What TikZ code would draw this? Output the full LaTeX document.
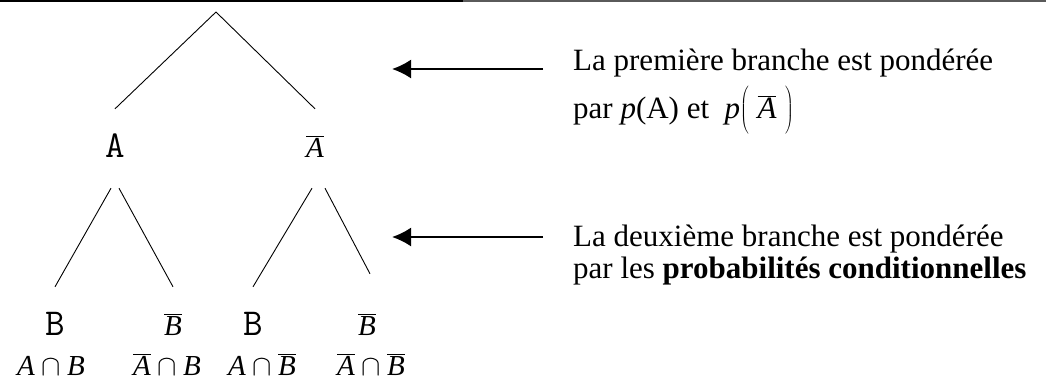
\RequirePackage{fix-cm}
\documentclass[tikz,border=0pt]{standalone}
\usepackage{fontspec}
\setmainfont{Liberation Serif}
\usepackage{tikz}
\usetikzlibrary{arrows.meta}
\definecolor{rulegrey}{RGB}{90,90,90}
\newcommand\notefont{\fontsize{31}{32}\selectfont}
\newcommand\labfont{\fontsize{38}{40}\selectfont\ttfamily}
\newcommand\evtfont{\fontsize{29}{30}\selectfont}
\newcommand\ev[1]{\textit{#1}}
\tikzset{
    lab/.style={font=\labfont, anchor=base, inner xsep=0pt, inner ysep=27pt, text height=21pt, text depth=4pt},
    labm/.style={lab, font=\evtfont},
    evt/.style={font=\evtfont, anchor=base, inner sep=0pt},
    note/.style={font=\notefont, anchor=base west, inner sep=0pt},
    branch/.style={draw=black, line width=0.9pt},
    pointer/.style={line width=2pt, -{Latex[length=19pt, width=19pt]}}
}

\begin{document}
\begin{tikzpicture}[x=1pt, y=-1pt]
    \useasboundingbox (0,0) rectangle (1046,380);
    \fill[black] (0,0) rectangle (463,2);
    \fill[rulegrey] (463,0) rectangle (1046,1.7);

    \coordinate (root) at (216,12);
    \node[lab] (A) at (115,157) {A};
    \node[labm] (Abar) at (315,157) {$\overline{\ev{A}}$};
    \node[lab] (B1) at (55,335) {B};
    \node[labm] (Bbar1) at (173,335) {$\overline{\ev{B}}$};
    \node[lab] (B2) at (253,335) {B};
    \node[labm] (Bbar2) at (367,335) {$\overline{\ev{B}}$};

    \draw[branch] (root) -- (A.north);
    \draw[branch] (root) -- (Abar.north);
    \draw[branch] ([xshift=-4pt]A.south) -- (B1.north);
    \draw[branch] ([xshift=4pt]A.south) -- (Bbar1.north);
    \draw[branch] ([xshift=-3pt]Abar.south) -- (B2.north);
    \draw[branch] ([xshift=10pt]Abar.south) -- ([shift={(3pt,13pt)}]Bbar2.north);

    \node[evt] (AB) at (51,375) {$\ev{A}\cap \ev{B}$};
    \node[evt] (AbarB) at (167,375) {$\overline{\ev{A}}\cap \ev{B}$};
    \node[evt] (ABbar) at (262,375) {$\ev{A}\cap \overline{\ev{B}}$};
    \node[evt] (AbarBbar) at (371,375) {$\overline{\ev{A}}\cap \overline{\ev{B}}$};

    \coordinate (tail1) at (543,69);
    \coordinate (tip1) at (392,69);
    \coordinate (tail2) at (543,237);
    \coordinate (tip2) at (392,237);
    \draw[pointer] (tail1) -- (tip1);
    \draw[pointer] (tail2) -- (tip2);

    \node[note] (first1) at (573,70) {La première branche est pondérée};
    \node[note] (first2) at (573,118) {par \ev{p}(A) et \ \ev{p}$\left(\vrule height 32pt depth 17pt width 0pt\;\overline{\ev{A}}\;\right)$};
    \node[note] (second1) at (573,246) {La deuxième branche est pondérée};
    \node[note] (second2) at (573,278) {par les \textbf{probabilités conditionnelles}};
\end{tikzpicture}
\end{document}
